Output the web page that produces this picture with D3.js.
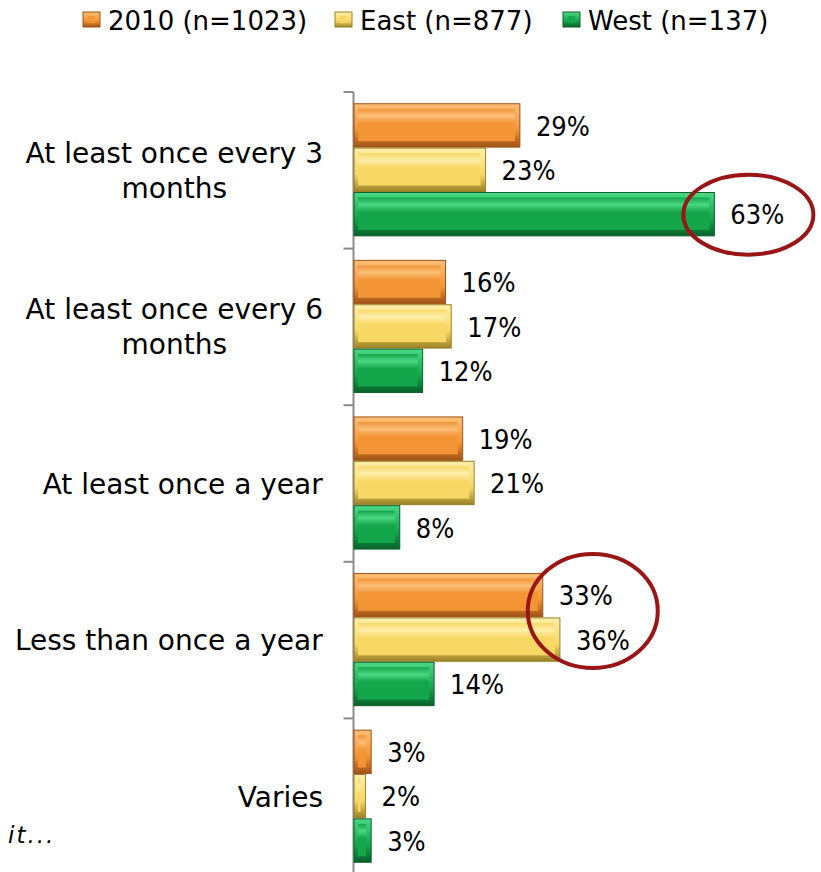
<!DOCTYPE html>
<html>
<head>
<meta charset="utf-8">
<script src="https://cdn.jsdelivr.net/npm/d3@7"></script>
<style>
  body { margin: 0; background: #fff; }
  text { font-family: "DejaVu Sans", sans-serif; fill: #000; }
  .val { font-family: "DejaVu Sans Condensed", "DejaVu Sans", sans-serif; }
</style>
</head>
<body>
<div id="chart"></div>
<script>
// Data
// =================================
const categories = [
  ["At least once every 3", "months"],
  ["At least once every 6", "months"],
  ["At least once a year"],
  ["Less than once a year"],
  ["Varies"]
];
const seriesNames = ["2010 (n=1023)", "East (n=877)", "West (n=137)"];
const values2010 = [29, 16, 19, 33, 3];
const valuesEast = [23, 17, 21, 36, 2];
const valuesWest = [63, 12, 8, 14, 3];
// circled labels: [category index, series index]
const highlights = [[0, 2], [3, 0]];

// Set up chart
// =================================
const svgWidth = 821;
const svgHeight = 872;

const palette = [
  { face: "#f39535", light: "#fbbf78", dark: "#9e5215" },
  { face: "#f8d865", light: "#fdeeaa", dark: "#9c8228" },
  { face: "#14a64b", light: "#4bd884", dark: "#08612a" }
];

const svg = d3.select("#chart")
  .append("svg")
  .attr("width", svgWidth)
  .attr("height", svgHeight);

const defs = svg.append("defs");
palette.forEach((c, i) => {
  const g = defs.append("linearGradient")
    .attr("id", "face" + i)
    .attr("x1", 0).attr("y1", 0).attr("x2", 0).attr("y2", 1);
  g.append("stop").attr("offset", "0%").attr("stop-color", c.face);
  g.append("stop").attr("offset", "22%").attr("stop-color", c.light);
  g.append("stop").attr("offset", "45%").attr("stop-color", c.face);
  g.append("stop").attr("offset", "100%").attr("stop-color", c.face);
  const e = defs.append("linearGradient")
    .attr("id", "edge" + i)
    .attr("x1", 0).attr("y1", 0).attr("x2", 0).attr("y2", 1);
  e.append("stop").attr("offset", "0%").attr("stop-color", c.light);
  e.append("stop").attr("offset", "60%").attr("stop-color", c.face);
  e.append("stop").attr("offset", "100%").attr("stop-color", c.dark);
});

// Scales
// =================================
const rows = categories.map((c, i) => ({
  label: c,
  vals: [values2010[i], valuesEast[i], valuesWest[i]]
}));

const yScale = d3.scaleBand()
  .domain(d3.range(categories.length))
  .range([92, 875])
  .paddingInner(0.15)
  .paddingOuter(0.075);

const ySub = d3.scaleBand()
  .domain(d3.range(seriesNames.length))
  .range([0, yScale.bandwidth()]);

const xScale = d3.scaleLinear()
  .domain([0, 100])
  .range([354, 354 + 572]);

// Axis
// =================================
const axisG = svg.append("g")
  .attr("transform", "translate(353.5,0)");
axisG.append("line")
  .attr("y1", 92).attr("y2", 875)
  .attr("stroke", "#8c8c8c").attr("stroke-width", 2);
const tickYs = d3.range(categories.length + 1).map(i => 92 + i * yScale.step());
axisG.selectAll(".tick")
  .data(tickYs)
  .enter()
  .append("line")
  .attr("x1", -10).attr("x2", 0)
  .attr("y1", d => d).attr("y2", d => d)
  .attr("stroke", "#8c8c8c").attr("stroke-width", 2);

// Bars
// =================================
const groups = svg.selectAll(".cat")
  .data(rows)
  .enter()
  .append("g")
  .attr("transform", (d, i) => `translate(0,${yScale(i)})`);

const bars = groups.selectAll(".bar")
  .data(d => d.vals.map((v, s) => ({ v, s })))
  .enter()
  .append("g");

bars.append("rect")
  .attr("x", xScale(0))
  .attr("y", d => ySub(d.s))
  .attr("width", d => xScale(d.v) - xScale(0))
  .attr("height", ySub.bandwidth() - 1)
  .attr("fill", d => `url(#edge${d.s})`)
  .attr("stroke", d => palette[d.s].dark)
  .attr("stroke-width", 1);

bars.append("rect")
  .attr("x", xScale(0) + 4)
  .attr("y", d => ySub(d.s) + 5)
  .attr("width", d => Math.max(0, xScale(d.v) - xScale(0) - 9))
  .attr("height", ySub.bandwidth() - 12)
  .attr("fill", d => `url(#face${d.s})`);

bars.append("text")
  .attr("class", "val")
  .attr("x", d => xScale(d.v) + 16)
  .attr("y", d => ySub(d.s) + ySub.bandwidth() / 2)
  .attr("dy", "0.36em")
  .style("font-size", "27px")
  .text(d => d.v + "%");

// Category labels
// =================================
const lineH = 35;
groups.each(function(d) {
  const g = d3.select(this);
  const n = d.label.length;
  const t = g.append("text")
    .style("font-size", "28px")
    .attr("text-anchor", "middle");
  d.label.forEach((line, k) => {
    t.append("tspan")
      .attr("x", 0)
      .attr("y", yScale.bandwidth() / 2 + (k - (n - 1) / 2) * lineH)
      .attr("dy", "0.36em")
      .text(line);
  });
  const w = t.node().getBBox().width;
  t.selectAll("tspan").attr("x", 323 - w / 2);
});

// Highlight ellipses
// =================================
svg.selectAll(".ring")
  .data(highlights)
  .enter()
  .append("ellipse")
  .attr("cx", d => xScale(rows[d[0]].vals[d[1]]) + (d[0] === 0 ? 34 : 50))
  .attr("cy", d => yScale(d[0]) + ySub(d[1]) + (d[0] === 0 ? ySub.bandwidth() / 2 : ySub.bandwidth() - 7))
  .attr("rx", 65)
  .attr("ry", d => d[0] === 0 ? 40 : 57)
  .attr("fill", "none")
  .attr("stroke", "#9a1616")
  .attr("stroke-width", 4);

// Legend
// =================================
const legendX = [83, 335, 563];
const legend = svg.selectAll(".legend")
  .data(seriesNames)
  .enter()
  .append("g")
  .attr("transform", (d, i) => `translate(${legendX[i]},12)`);
legend.append("rect")
  .attr("width", 17).attr("height", 15)
  .attr("fill", (d, i) => `url(#edge${i})`)
  .attr("stroke", (d, i) => palette[i].dark);
legend.append("rect")
  .attr("x", 5).attr("y", 4)
  .attr("width", 7).attr("height", 7)
  .attr("fill", (d, i) => palette[i].face);
legend.append("text")
  .attr("x", 25).attr("y", 9)
  .attr("dy", "0.36em")
  .style("font-size", "26px")
  .text(d => d);

// footnote fragment
svg.append("text")
  .attr("x", 8).attr("y", 835)
  .attr("dy", "0.36em")
  .style("font-size", "23px")
  .style("font-style", "italic")
  .style("letter-spacing", "2px")
  .text("it...");
</script>
</body>
</html>
